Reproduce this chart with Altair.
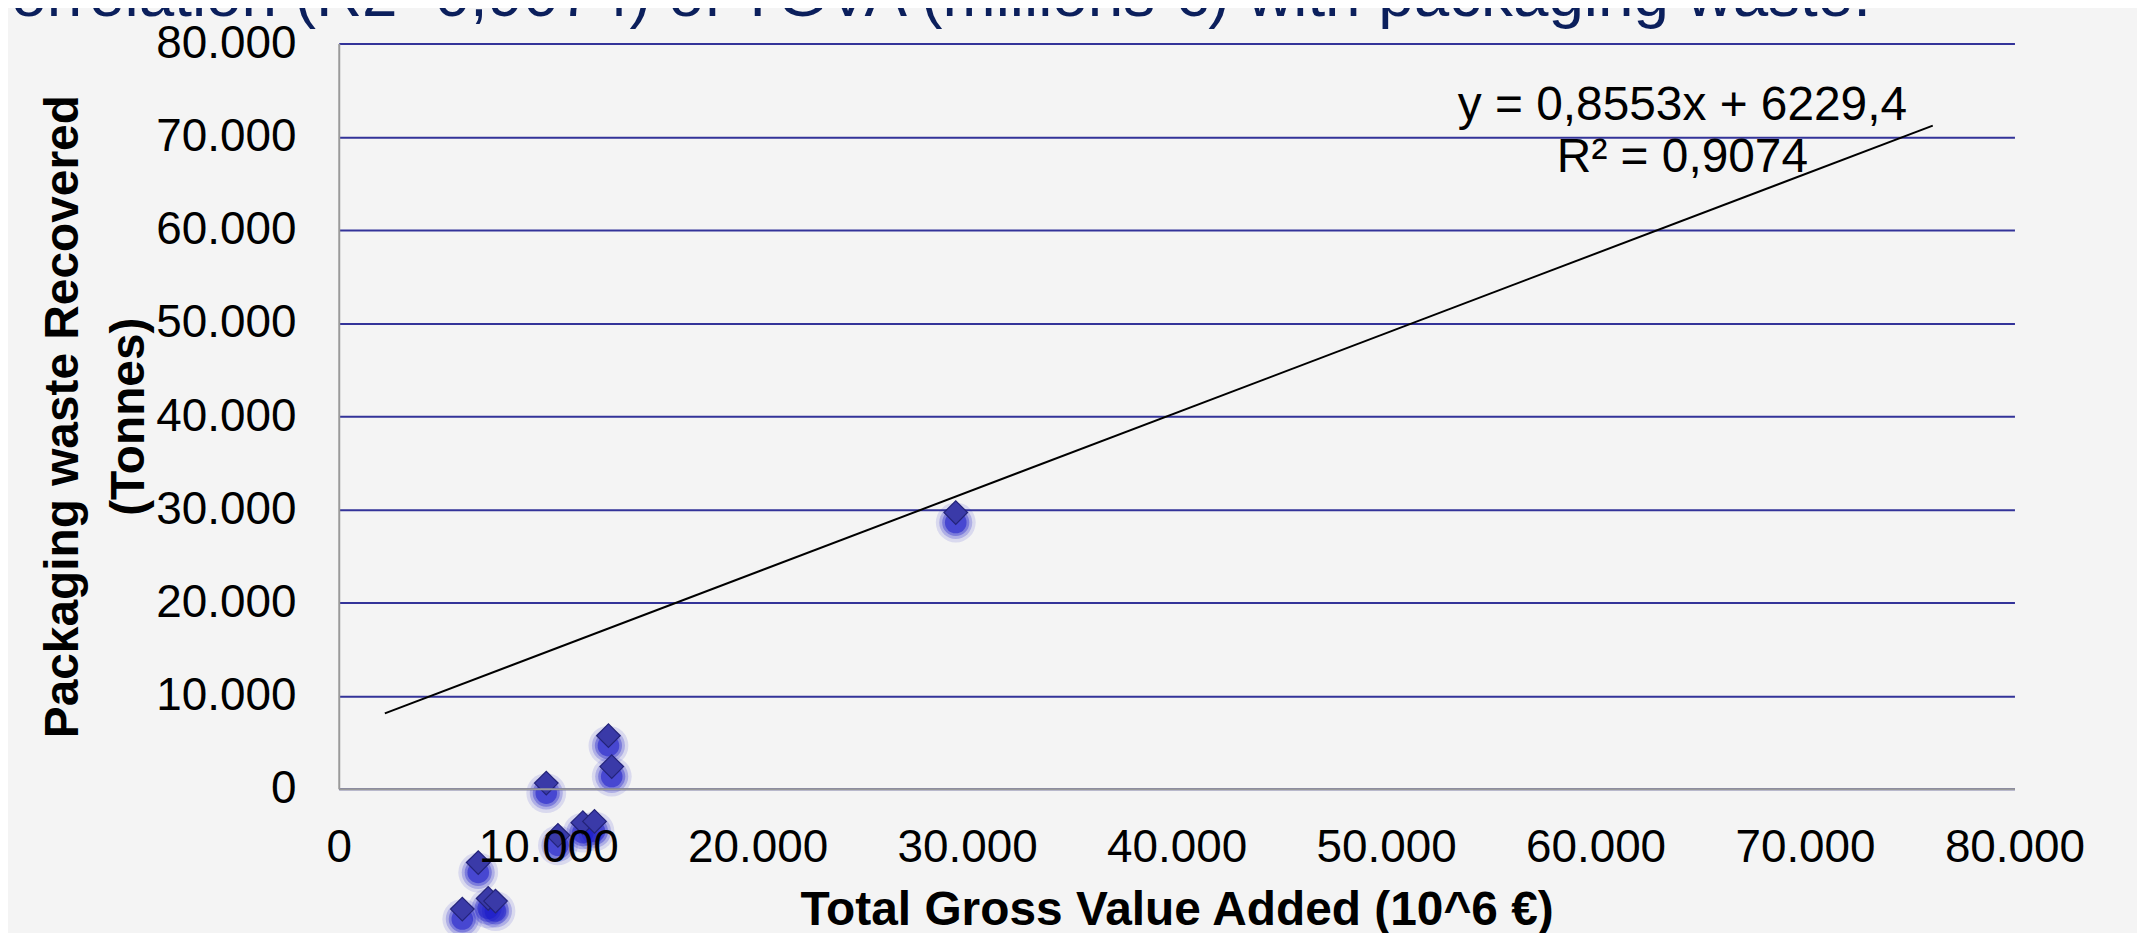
import altair as alt
import pandas as pd

# ---- data ----
gva = [12875, 13032, 9907, 11653, 12209, 10464, 6659, 7134, 7482, 5898, 29456]
waste = [5700, 2385, 610, -3636, -3497, -4995, -7914, -11765, -12053, -12909, 29658]

trend_x = [2200, 76100]
trend_y = [8100, 71200]

eq_lines = ["y = 0,8553x + 6229,4", "R² = 0,9074"]
eq_x = [64150, 64150]
eq_y = [71763, 66200]

axis_ticks = [0, 10000, 20000, 30000, 40000, 50000, 60000, 70000, 80000]

title_text = "Correlation (R2=0,9074) of TGVA (millions €) with packaging waste."

# glow rings (size, opacity) used to imitate the soft shadow under each marker
glow_sizes = [1600, 1100, 740, 470]
glow_opac = [0.12, 0.22, 0.35, 0.55]

FONT = "Liberation Sans"
W, H = 1682, 748

pts = pd.DataFrame({"gva": gva, "waste": waste})
trend = pd.DataFrame({"gva": trend_x, "waste": trend_y})
eq = pd.DataFrame({"gva": eq_x, "waste": eq_y, "t": eq_lines})
ttl = pd.DataFrame({"t": [title_text]})

label_expr = "datum.value == 0 ? '0' : format(datum.value / 1000, 'd') + '.000'"

xs = alt.Scale(domain=[0, 80000], nice=False, zero=False)
ys = alt.Scale(domain=[0, 80000], nice=False, zero=False)

x_axis = alt.Axis(
    values=axis_ticks, labelExpr=label_expr, labelFontSize=46, labelFont=FONT,
    labelColor="#000000", ticks=False, tickSize=0, domainColor="#9a9a9a",
    domainWidth=2, grid=False, labelPadding=37, labelFlush=False,
    labelOverlap=False, title="Total Gross Value Added (10^6 €)",
    titleFontSize=48, titleFont=FONT, titleFontWeight="bold",
    titleColor="#000000", titleBaseline="alphabetic", titleY=136,
    titleX=W / 2, titleAlign="center", zindex=1,
)
y_axis = alt.Axis(
    values=axis_ticks, labelExpr=label_expr, labelFontSize=46, labelFont=FONT,
    labelColor="#000000", ticks=False, tickSize=0, domainColor="#9a9a9a",
    domainWidth=2, grid=True, gridColor="#333399", gridWidth=2, gridOpacity=1,
    labelPadding=43, labelFlush=False, labelOverlap=False,
    title=["Packaging waste Recovered", "(Tonnes)"], titleFontSize=48,
    titleFont=FONT, titleFontWeight="bold", titleColor="#000000",
    titleAngle=270, titleX=-276, titleY=H / 2, titleAlign="center",
    titleBaseline="middle", titleLineHeight=66, zindex=0,
)

base_x = alt.X("gva:Q", scale=xs, axis=x_axis)
base_y = alt.Y("waste:Q", scale=ys, axis=y_axis)

layers = []
for i, (s, o) in enumerate(zip(glow_sizes, glow_opac)):
    enc = {"x": base_x, "y": base_y} if i == 0 else {"x": "gva:Q", "y": "waste:Q"}
    layers.append(
        alt.Chart(pts).mark_point(
            shape="circle", filled=True, size=s, color="#1c1cc8", opacity=o,
            yOffset=10, clip=False,
        ).encode(**enc)
    )

line = alt.Chart(trend).mark_line(color="#000000", strokeWidth=2, clip=False).encode(
    x="gva:Q", y="waste:Q"
)

diamonds = alt.Chart(pts).mark_point(
    shape="diamond", filled=True, size=560, fill="#3a3aa8", stroke="#232378",
    strokeWidth=1.2, opacity=1, clip=False,
).encode(x="gva:Q", y="waste:Q")

eq_text = alt.Chart(eq).mark_text(
    font=FONT, fontSize=48, color="#000000", align="center",
    baseline="alphabetic",
).encode(x="gva:Q", y="waste:Q", text="t:N")

title = alt.Chart(ttl).mark_text(
    font=FONT, fontSize=64, color="#0b1f5c", align="left",
    baseline="alphabetic",
).encode(x=alt.value(-375), y=alt.value(-28), text="t:N")

chart = (
    alt.layer(*layers, line, diamonds, eq_text, title)
    .properties(
        width=W, height=H,
        autosize=alt.AutoSizeParams(type="none"),
        padding={"left": 332, "right": 123, "top": 34, "bottom": 143},
        background="#f4f4f4",
    )
    .configure_view(stroke=None)
)

chart.save("out.html", embed_options={"renderer": "svg", "actions": False})
